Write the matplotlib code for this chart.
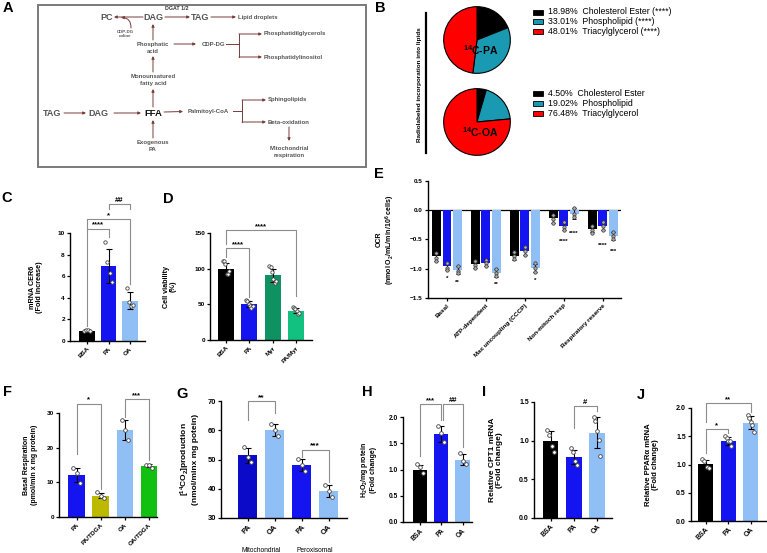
import matplotlib.pyplot as plt
import numpy as np
from matplotlib.patches import Rectangle

plt.rcParams['font.family'] = ['Liberation Sans', 'DejaVu Sans']
plt.rcParams['font.weight'] = 'bold'
plt.rcParams['axes.labelweight'] = 'bold'
plt.rcParams['mathtext.default'] = 'regular'

W, H = 767, 553

# ---------------- data ----------------
# B: radiolabel incorporation (%)
lipid_names = ['Cholesterol Ester', 'Phospholipid', 'Triacylglycerol']
pa_pct = [18.98, 33.01, 48.01]
oa_pct = [4.50, 19.02, 76.48]
pa_sig = ['(****)', '(****)', '(****)']
pie_colors = ['#000000', '#1a9ab2', '#ff0000']

# C: mRNA CER6
c_cats = ['BSA', 'PA', 'OA']
c_mean = [0.97, 6.95, 3.75]
c_sd = [0.1, 1.6, 0.8]
c_pts = [[0.95, 1.0, 1.05, 0.9], [9.2, 7.3, 6.3, 5.5], [4.9, 3.6, 3.2, 3.3]]

# D: cell viability
d_cats = ['BSA', 'PA', 'Myr', 'PA/Myr']
d_mean = [100, 50, 91, 41]
d_sd = [8, 4, 9, 3.5]
d_pts = [[111, 111, 106, 92, 92, 97], [56, 54, 50, 47, 45, 47],
         [104, 102, 95, 86, 80, 83], [46, 45, 44, 40, 37, 38]]

# E: OCR
e_cats = ['Basal', 'ATP-dependent', 'Max uncoupling (CCCP)', 'Non-mitoch resp', 'Respiratory reserve']
e_bsa = [-0.79, -0.92, -0.78, -0.14, -0.32]
e_pa = [-0.96, -0.90, -0.70, -0.27, -0.27]
e_oa = [-1.02, -1.07, -0.99, -0.06, -0.44]
e_sd_bsa = [0.07, 0.06, 0.07, 0.07, 0.06]
e_sd_pa = [0.06, 0.06, 0.07, 0.07, 0.07]
e_sd_oa = [0.07, 0.07, 0.07, 0.09, 0.07]
e_pts_bsa = [[-0.73, -0.81, -0.87], [-0.86, -0.93, -0.98], [-0.71, -0.79, -0.84],
             [-0.08, -0.15, -0.21], [-0.27, -0.33, -0.39]]
e_pts_pa = [[-0.90, -0.98, -1.02], [-0.85, -0.91, -0.96], [-0.63, -0.70, -0.76],
            [-0.20, -0.28, -0.33], [-0.20, -0.27, -0.33]]
e_pts_oa = [[-0.95, -1.03, -1.08], [-1.00, -1.07, -1.13], [-0.91, -0.98, -1.05],
            [0.03, -0.06, -0.12], [-0.37, -0.44, -0.50]]
e_sig_pa = ['*', '', '', '****', '****']
e_sig_oa = ['**', '**', '*', '****', '***']
e_sig_pa_y = [-1.17, 0, 0, -0.54, -0.60]
e_sig_oa_y = [-1.24, -1.27, -1.20, -0.40, -0.71]

# F: basal respiration
f_cats = ['PA', 'PA/TDGA', 'OA', 'OA/TDGA']
f_mean = [12.2, 6.2, 25.1, 14.8]
f_sd = [2.0, 0.8, 3.0, 0.5]
f_pts = [[14.0, 12.6, 9.9], [7.2, 6.0, 5.6], [28.1, 25.2, 22.1], [15.1, 15.0, 14.2]]

# G: 14CO2 production
g_cats = ['PA', 'OA', 'PA', 'OA']
g_groups = ['Mitochondrial', 'Peroxisomal']
g_mean = [51.5, 60.1, 48.1, 39.2]
g_sd = [2.6, 2.1, 2.0, 2.1]
g_pts = [[54.2, 51.0, 49.2], [62.2, 60.0, 58.1], [50.1, 48.2, 46.0], [41.2, 39.4, 37.1]]

# H: H2O2
h_cats = ['BSA', 'PA', 'OA']
h_mean = [1.0, 1.67, 1.19]
h_sd = [0.09, 0.15, 0.11]
h_pts = [[1.1, 1.04, 0.93], [1.82, 1.70, 1.53], [1.32, 1.16, 1.10]]

# I: CPT1 mRNA
i_cats = ['BSA', 'PA', 'OA']
i_mean = [1.0, 0.79, 1.1]
i_sd = [0.13, 0.09, 0.2]
i_pts = [[1.14, 1.07, 0.93, 0.85], [0.9, 0.85, 0.74, 0.68], [1.31, 1.25, 1.13, 1.01, 0.80]]

# J: PPARa mRNA
j_cats = ['BSA', 'PA', 'OA']
j_mean = [1.01, 1.42, 1.74]
j_sd = [0.07, 0.07, 0.12]
j_pts = [[1.09, 1.07, 0.95, 0.94], [1.50, 1.47, 1.42, 1.41, 1.32], [1.88, 1.83, 1.76, 1.70, 1.57]]

BLACK = '#000000'
BLUE = '#1414f0'
DBLUE = '#0a0ac8'
LBLUE = '#90bff5'
ARROW = '#7a3a3a'
GREY = '#8c8c8c'

fig = plt.figure(figsize=(W / 100, H / 100), dpi=100)

# overlay in pixel coordinates for panel A, B and letters
ov = fig.add_axes([0, 0, 1, 1])
ov.set_xlim(0, W)
ov.set_ylim(H, 0)
ov.axis('off')


def px_axes(x0, x1, ytop, ybot):
    return fig.add_axes([x0 / W, 1 - ybot / H, (x1 - x0) / W, (ybot - ytop) / H])


def style(ax, ylim, yticks, fs, xpx, c0, step):
    ax.set_ylim(*ylim)
    ax.set_yticks(yticks)
    ax.set_xlim((xpx[0] - c0) / step, (xpx[1] - c0) / step)
    for s in ['top', 'right']:
        ax.spines[s].set_visible(False)
    for s in ['left', 'bottom']:
        ax.spines[s].set_linewidth(1.0)
    ax.tick_params(labelsize=fs, width=0.9, length=2.5, pad=1.2)
    ax.set_facecolor('none')


def bars(ax, cats, means, sds, pts, colors, width, fs, ms=7):
    x = np.arange(len(cats))
    ax.bar(x, means, width, color=colors, zorder=1)
    ax.errorbar(x, means, yerr=sds, fmt='none', ecolor='black', elinewidth=0.8,
                capsize=2, capthick=0.8, zorder=2)
    for i, p in enumerate(pts):
        off = np.linspace(-0.14, 0.14, len(p))
        ax.scatter(i + off, p, s=ms, facecolor='white', edgecolor='#444444', lw=0.6, zorder=3)
    ax.set_xticks(x)
    ax.set_xticklabels(cats, rotation=45, ha='right', rotation_mode='anchor', fontsize=fs)


def bracket(ax, xa, xb, y, ya, yb, txt, fs):
    ax.plot([xa, xa, xb, xb], [ya, y, y, yb], color=GREY, lw=0.8, clip_on=False, zorder=4)
    ax.text((xa + xb) / 2, y, txt, ha='center', va='bottom', fontsize=fs, clip_on=False)


def ylab(ax, text, fs, xpx, x0, x1):
    ax.set_ylabel(text, fontsize=fs, linespacing=1.1)
    ax.yaxis.set_label_coords((xpx - x0) / (x1 - x0), 0.5)


# ---------------- panel letters ----------------
for lt, lx, ly in [('A', 8, 8), ('B', 380, 8), ('C', 7, 198), ('D', 168, 199), ('E', 379, 174),
                   ('F', 7, 392), ('G', 182, 394), ('H', 367, 392), ('I', 484, 392), ('J', 641, 395)]:
    ov.text(lx, ly, lt, fontsize=10.5, fontweight='bold', ha='center', va='center')

# ---------------- A: pathway diagram ----------------
ov.add_patch(Rectangle((38, 5), 328, 162, fill=False, ec='#7a7a7a', lw=1.4))
big = dict(fontsize=6.5, fontweight='bold', color='#555555', ha='center', va='center')
small = dict(fontsize=4.3, fontweight='bold', color='#555555', va='center', linespacing=1.3)
ov.text(107, 17, 'PC', **big)
ov.text(153, 17, 'DAG', **big)
ov.text(200, 17, 'TAG', **big)
ov.text(52, 113, 'TAG', **big)
ov.text(98, 113, 'DAG', **big)
ov.text(153, 113, 'FFA', fontsize=6.8, fontweight='bold', color='#111111', ha='center', va='center')
ov.text(177, 9, 'DGAT 1/2', fontsize=3.8, fontweight='bold', color='#333333', ha='center', va='center')
ov.text(125, 34, 'CDP-DG\ncoline', fontsize=3.2, color='#555555', ha='center', va='center', linespacing=1.2)
ov.text(238, 17, 'Lipid droplets', ha='left', **small)
ov.text(153, 48, 'Phosphatic\nacid', ha='center', **small)
ov.text(213, 44, 'CDP-DG', ha='center', **small)
ov.text(264, 34, 'Phosphatidilglycerols', ha='left', **small)
ov.text(264, 57, 'Phosphatidylinositol', ha='left', **small)
ov.text(153, 80, 'Monounsatured\nfatty acid', ha='center', **small)
ov.text(208, 111, 'Palmitoyl-CoA', ha='center', **small)
ov.text(268, 100, 'Sphingolipids', ha='left', **small)
ov.text(268, 122, 'Beta-oxidation', ha='left', **small)
ov.text(289, 152, 'Mitochondrial\nrespiration', ha='center', **small)
ov.text(153, 146, 'Exogenous\nPA', ha='center', **small)


def arr(a, b, rad=0.0):
    ov.annotate('', xy=b, xytext=a,
                arrowprops=dict(arrowstyle='-|>', color=ARROW, lw=0.7, mutation_scale=4,
                                shrinkA=0, shrinkB=0, connectionstyle=f'arc3,rad={rad}'))


arr((143, 17), (114, 17))
arr((131, 28), (121, 17.5), rad=0.5)
arr((165, 17), (190, 17))
arr((211, 17), (236, 17))
arr((153, 40), (153, 24))
arr((174, 44), (196, 44))
arr((153, 72), (153, 56))
arr((153, 107), (153, 89))
arr((64, 113), (86, 113))
arr((114, 113), (141, 113))
arr((164, 112), (183, 111.5))
arr((153, 138), (153, 120))
arr((289, 127), (289, 141))
ov.plot([226, 239, 239], [44, 44, 34], color=ARROW, lw=0.7)
ov.plot([239, 239], [44, 57], color=ARROW, lw=0.7)
arr((239, 34), (262, 34))
arr((239, 57), (262, 57))
ov.plot([233, 242, 242], [111, 111, 100], color=ARROW, lw=0.7)
ov.plot([242, 242], [111, 122], color=ARROW, lw=0.7)
arr((242, 100), (266, 100))
arr((242, 122), (266, 122))

# ---------------- B: pies ----------------
ov.plot([426, 426], [13, 153], color='black', lw=1.6)
ov.text(419, 85, 'Radiolabeled incorporation into lipids', rotation=90, fontsize=4.6,
        fontweight='bold', ha='center', va='center')
for pct, cy, name, rows, sig in [(pa_pct, 40, '$^{14}$C-PA', [12, 21, 31], pa_sig),
                                  (oa_pct, 122, '$^{14}$C-OA', [93, 103, 113], ['', '', ''])]:
    pax = px_axes(443, 511, cy - 34, cy + 34)
    pax.pie(pct, colors=pie_colors, startangle=90, counterclock=False,
            wedgeprops=dict(edgecolor='black', linewidth=0.8))
    pax.set_aspect('equal')
    pax.set_xlim(-1.02, 1.02)
    pax.set_ylim(-1.02, 1.02)
    pax.text(0.1, -0.3, name, fontsize=7.5, fontweight='bold', ha='center', va='center')
    for k in range(3):
        ov.add_patch(Rectangle((533, rows[k] - 2.5), 10, 5, fc=pie_colors[k], ec='black', lw=0.6))
        ov.text(548, rows[k], f'{pct[k]:.2f}%  {lipid_names[k]} {sig[k]}'.rstrip(),
                fontsize=6.3, fontweight='normal', ha='left', va='center')

# ---------------- C ----------------
xc = (70, 145)
ax = px_axes(xc[0], xc[1], 233, 341)
bars(ax, c_cats, c_mean, c_sd, c_pts, [BLACK, BLUE, LBLUE], 0.72, 4.6, ms=6)
style(ax, (0, 10), [0, 2, 4, 6, 8, 10], 4.6, xc, 87, 21.5)
ylab(ax, 'mRNA CER6\n(Fold increase)', 5.2, 43, *xc)
bracket(ax, 0, 1, 10.4, 1.4, 9.6, '****', 5.5)
bracket(ax, 0, 2, 11.3, 10.4, 5.3, '*', 5.5)
bracket(ax, 1, 2, 12.7, 12.2, 12.2, '##', 5.5)

# ---------------- D ----------------
xd = (210, 312)
ax = px_axes(xd[0], xd[1], 233, 340)
bars(ax, d_cats, d_mean, d_sd, d_pts, [BLACK, BLUE, '#0e9262', '#12c07f'], 0.68, 4.6, ms=6)
style(ax, (0, 150), [0, 50, 100, 150], 4.6, xd, 226, 23.3)
ylab(ax, 'Cell viability\n(%)', 5.2, 177, *xd)
bracket(ax, 0, 1, 129, 117, 60, '****', 5.5)
bracket(ax, 0, 3, 154, 135, 62, '****', 5.5)

# ---------------- E ----------------
xe = (428, 621)
ax = px_axes(xe[0], xe[1], 181, 298)
xg = np.arange(len(e_cats))
for off, vals, sds, pts, col in [(-0.27, e_bsa, e_sd_bsa, e_pts_bsa, BLACK),
                                 (0.0, e_pa, e_sd_pa, e_pts_pa, BLUE),
                                 (0.27, e_oa, e_sd_oa, e_pts_oa, LBLUE)]:
    ax.bar(xg + off, vals, 0.23, color=col, zorder=1)
    ax.errorbar(xg + off, vals, yerr=sds, fmt='none', ecolor='black', elinewidth=0.7,
                capsize=1.5, capthick=0.7, zorder=2)
    for i, p in enumerate(pts):
        ax.scatter([xg[i] + off] * len(p), p, s=6, facecolor='#aaaaaa', edgecolor='#333333',
                   lw=0.5, zorder=3)
for i in range(len(e_cats)):
    if e_sig_pa[i]:
        ax.text(xg[i], e_sig_pa_y[i], e_sig_pa[i], fontsize=4.5, ha='center', va='center')
    ax.text(xg[i] + 0.27, e_sig_oa_y[i], e_sig_oa[i], fontsize=4.5, ha='center', va='center')
ax.axhline(0, color='black', lw=0.9, zorder=0)
ax.set_xticks(xg)
ax.set_xticklabels(e_cats, rotation=45, ha='right', rotation_mode='anchor', fontsize=5.6)
style(ax, (-1.5, 0.5), [-1.5, -1.0, -0.5, 0.0, 0.5], 4.6, xe, 447, 38.9)
ylab(ax, 'OCR\n(nmol O$_2$/mL/min/10$^6$ cells)', 5.0, 397, *xe)

# ---------------- F ----------------
xf = (59, 157)
ax = px_axes(xf[0], xf[1], 413, 517)
bars(ax, f_cats, f_mean, f_sd, f_pts, [BLUE, '#bdb800', LBLUE, '#12c012'], 0.69, 4.3)
style(ax, (0, 30), [0, 10, 20, 30], 4.6, xf, 76.7, 24.1)
ylab(ax, 'Basal Respiration\n(pmol/min x mg protein)', 5.0, 38, *xf)
bracket(ax, 0, 1, 32.7, 18.3, 8.2, '*', 5.5)
bracket(ax, 2, 3, 33.9, 28.9, 16.3, '***', 5.5)

# ---------------- G ----------------
xgp = (221, 347)
ax = px_axes(xgp[0], xgp[1], 401, 518)
bars(ax, g_cats, g_mean, g_sd, g_pts, [DBLUE, LBLUE, BLUE, LBLUE], 0.68, 5.6)
style(ax, (30, 70), [30, 40, 50, 60, 70], 5.4, xgp, 247.5, 27)
ylab(ax, '[$^{14}$CO$_2$]production\n(nmol/minx mg potein)', 6.0, 199, *xgp)
bracket(ax, 0, 1, 70, 63.6, 65.9, '**', 6)
bracket(ax, 2, 3, 53.4, 50.7, 42.3, '***', 6)
ax.text(0.5, 30 - 11.0, g_groups[0], fontsize=4.8, fontweight='normal', ha='center', va='center')
ax.text(2.5, 30 - 11.0, g_groups[1], fontsize=4.8, fontweight='normal', ha='center', va='center')

# ---------------- H ----------------
xh = (403, 472)
ax = px_axes(xh[0], xh[1], 417, 522)
bars(ax, h_cats, h_mean, h_sd, h_pts, [BLACK, BLUE, LBLUE], 0.67, 4.8)
style(ax, (0, 2.0), [0, 0.5, 1.0, 1.5, 2.0], 4.8, xh, 420, 21.3)
ylab(ax, 'H$_2$O$_2$/mg protein\n(Fold change)', 5.0, 377, *xh)
bracket(ax, 0, 1, 2.25, 1.25, 1.95, '***', 5.5)
bracket(ax, 1.1, 2, 2.25, 1.95, 1.42, '##', 5.5)

# ---------------- I ----------------
xi = (534, 612)
ax = px_axes(xi[0], xi[1], 402, 518)
bars(ax, i_cats, i_mean, i_sd, i_pts, [BLACK, BLUE, LBLUE], 0.67, 5.6)
style(ax, (0, 1.5), [0, 0.5, 1.0, 1.5], 5.0, xi, 550.5, 23.3)
ylab(ax, 'Relative CPT1 mRNA\n(Fold change)', 6.0, 503, *xi)
bracket(ax, 1, 2, 1.45, 1.16, 1.38, '#', 5.5)

# ---------------- J ----------------
xj = (691, 767)
ax = px_axes(xj[0], xj[1], 408, 521)
bars(ax, j_cats, j_mean, j_sd, j_pts, [BLACK, BLUE, LBLUE], 0.66, 5.2)
style(ax, (0, 2.0), [0, 0.5, 1.0, 1.5, 2.0], 5.0, xj, 705.5, 22.7)
ylab(ax, 'Relative PPAR\u03b1 mRNA\n(Fold change)', 5.6, 659, *xj)
bracket(ax, 0, 2, 2.09, 1.75, 1.93, '**', 5.5)
bracket(ax, 0, 1, 1.63, 1.2, 1.55, '*', 5.5)

fig.savefig('out.png', dpi=100)
